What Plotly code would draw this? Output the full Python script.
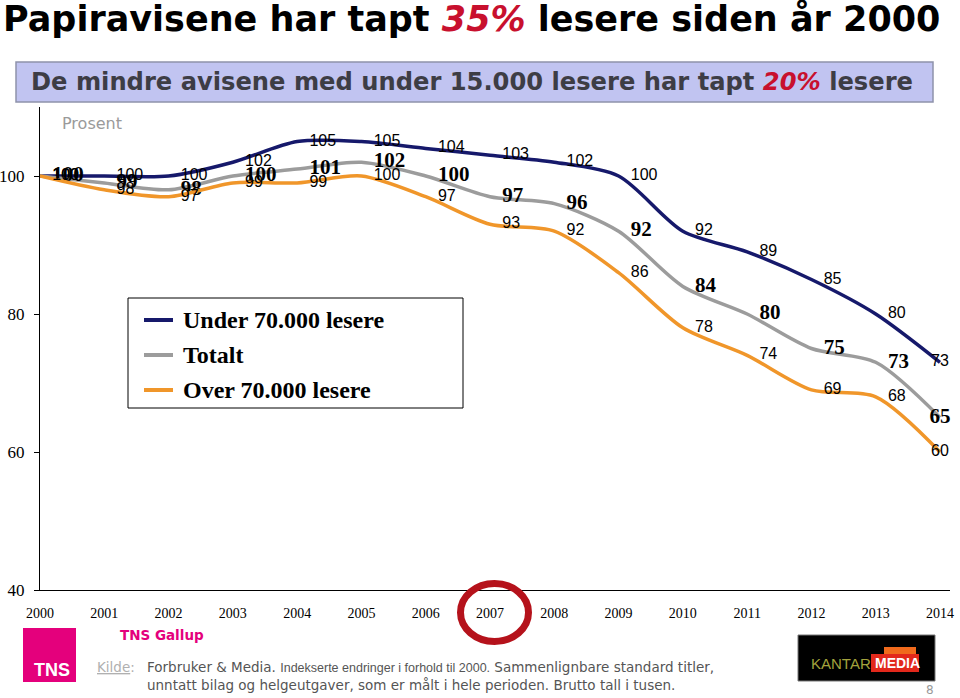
import plotly.graph_objects as go

# ---------------- data ----------------
years = list(range(2000, 2015))
under_70k = [100, 100, 100, 102, 105, 105, 104, 103, 102, 100, 92, 89, 85, 80, 73]
totalt = [100, 99, 98, 100, 101, 102, 100, 97, 96, 92, 84, 80, 75, 73, 65]
over_70k = [100, 98, 97, 99, 99, 100, 97, 93, 92, 86, 78, 74, 69, 68, 60]
series_names = ["Under 70.000 lesere", "Totalt", "Over 70.000 lesere"]
y_ticks = [40, 60, 80, 100]

# ---------------- layout geometry ----------------
W, H = 960, 698
L, R, T, B = 40, 10, 107, 108
PW, PH = W - L - R, H - T - B


def px(x):
    return (x - L) / PW


def py(y):
    return (H - B - y) / PH


COL_UNDER = "#16196b"
COL_TOT = "#9c9c9c"
COL_OVER = "#f0962a"

positions = ["middle right"] * (len(years) - 1) + ["middle center"]

fig = go.Figure()

fig.add_trace(go.Scatter(
    x=years, y=under_70k, name=series_names[0], mode="lines+markers+text",
    line=dict(color=COL_UNDER, width=3.5, shape="spline", smoothing=0.8),
    marker=dict(size=18, color="rgba(0,0,0,0)"),
    text=[str(v) for v in under_70k], textposition=positions,
    textfont=dict(family="Liberation Sans", size=16, color="black"),
    cliponaxis=False, showlegend=False, hoverinfo="skip"))

fig.add_trace(go.Scatter(
    x=years, y=totalt, name=series_names[1], mode="lines+markers+text",
    line=dict(color=COL_TOT, width=3.5, shape="spline", smoothing=0.8),
    marker=dict(size=18, color="rgba(0,0,0,0)"),
    text=["<b>%d</b>" % v for v in totalt], textposition=positions,
    textfont=dict(family="Liberation Serif", size=21, color="black"),
    cliponaxis=False, showlegend=False, hoverinfo="skip"))

fig.add_trace(go.Scatter(
    x=years, y=over_70k, name=series_names[2], mode="lines+markers+text",
    line=dict(color=COL_OVER, width=3.5, shape="spline", smoothing=0.8),
    marker=dict(size=18, color="rgba(0,0,0,0)"),
    text=[str(v) for v in over_70k], textposition=positions,
    textfont=dict(family="Liberation Sans", size=16, color="black"),
    cliponaxis=False, showlegend=False, hoverinfo="skip"))

shapes = []
annotations = []

# title
annotations.append(dict(
    xref="paper", yref="paper", x=px(1), y=py(19), xanchor="left", yanchor="middle",
    text="<b>Papiravisene har tapt <i><span style='color:#c8102e'>35%</span></i> lesere siden år 2000</b>",
    showarrow=False, font=dict(family="DejaVu Sans", size=35, color="black")))

# subtitle box
shapes.append(dict(type="rect", xref="paper", yref="paper",
                   x0=px(16), x1=px(933), y0=py(102), y1=py(62),
                   fillcolor="#c1c4f1", line=dict(color="#8e92aa", width=1.5), layer="below"))
annotations.append(dict(
    xref="paper", yref="paper", x=px(29), y=py(82), xanchor="left", yanchor="middle",
    text="<b>De mindre avisene med under 15.000 lesere har tapt <i><span style='color:#c8102e'>20%</span></i> lesere</b>",
    showarrow=False, font=dict(family="DejaVu Sans", size=24.2, color="#3d3d45")))

# "Prosent"
annotations.append(dict(
    xref="paper", yref="paper", x=px(60), y=py(123), xanchor="left", yanchor="middle",
    text="Prosent", showarrow=False, font=dict(family="DejaVu Sans", size=16, color="#9a9a9a")))

# manual legend
shapes.append(dict(type="rect", xref="paper", yref="paper",
                   x0=px(128), x1=px(463), y0=py(408), y1=py(298),
                   fillcolor="white", line=dict(color="black", width=1), layer="above"))
leg_y = [320, 355, 390]
for name, col, yy in zip(series_names, [COL_UNDER, COL_TOT, COL_OVER], leg_y):
    shapes.append(dict(type="line", xref="paper", yref="paper",
                       x0=px(144), x1=px(173), y0=py(yy), y1=py(yy),
                       line=dict(color=col, width=4), layer="above"))
    annotations.append(dict(
        xref="paper", yref="paper", x=px(181), y=py(yy), xanchor="left", yanchor="middle",
        text="<b>%s</b>" % name, showarrow=False,
        font=dict(family="Liberation Serif", size=24, color="black")))

# red circle around 2007
shapes.append(dict(type="circle", xref="paper", yref="paper",
                   x0=px(460.5), x1=px(528.5), y0=py(641.5), y1=py(583.5),
                   line=dict(color="#b5121b", width=7), layer="above"))

# TNS logo
shapes.append(dict(type="rect", xref="paper", yref="paper",
                   x0=px(23), x1=px(76), y0=py(682), y1=py(628),
                   fillcolor="#e4007c", line=dict(width=0)))
annotations.append(dict(
    xref="paper", yref="paper", x=px(52), y=py(670), xanchor="center", yanchor="middle",
    text="<b>TNS</b>", showarrow=False, font=dict(family="Liberation Sans", size=18, color="white")))
annotations.append(dict(
    xref="paper", yref="paper", x=px(118), y=py(635), xanchor="left", yanchor="middle",
    text="<b>TNS Gallup</b>", showarrow=False, font=dict(family="DejaVu Sans", size=13.5, color="#e4007c")))

# source footnote
annotations.append(dict(
    xref="paper", yref="paper", x=px(95), y=py(667), xanchor="left", yanchor="middle",
    text="<span style='text-decoration:underline'>Kilde</span>:", showarrow=False,
    font=dict(family="DejaVu Sans", size=13.5, color="#b0b0b0")))
annotations.append(dict(
    xref="paper", yref="paper", x=px(145), y=py(667), xanchor="left", yanchor="middle",
    text="Forbruker &amp; Media. <span style='font-family:Liberation Sans Narrow, Liberation Sans;font-size:12.5px'>Indekserte endringer i forhold til 2000.</span> Sammenlignbare standard titler,",
    showarrow=False, font=dict(family="DejaVu Sans", size=13.5, color="#555555")))
annotations.append(dict(
    xref="paper", yref="paper", x=px(145), y=py(685), xanchor="left", yanchor="middle",
    text="unntatt bilag og helgeutgaver, som er målt i hele perioden. Brutto tall i tusen.",
    showarrow=False, font=dict(family="DejaVu Sans", size=13.5, color="#555555")))

# Kantar Media logo
shapes.append(dict(type="rect", xref="paper", yref="paper",
                   x0=px(798), x1=px(935), y0=py(681), y1=py(635),
                   fillcolor="black", line=dict(color="#777777", width=1)))
shapes.append(dict(type="rect", xref="paper", yref="paper",
                   x0=px(871), x1=px(919), y0=py(672), y1=py(654),
                   fillcolor="#e2281b", line=dict(width=0)))
shapes.append(dict(type="rect", xref="paper", yref="paper",
                   x0=px(884), x1=px(916), y0=py(654), y1=py(647),
                   fillcolor="#f06a1c", line=dict(width=0)))
annotations.append(dict(
    xref="paper", yref="paper", x=px(809), y=py(663), xanchor="left", yanchor="middle",
    text="KANTAR", showarrow=False, font=dict(family="Liberation Sans", size=15, color="#a3a23c")))
annotations.append(dict(
    xref="paper", yref="paper", x=px(873), y=py(663), xanchor="left", yanchor="middle",
    text="<b>MEDIA</b>", showarrow=False, font=dict(family="Liberation Sans", size=14, color="white")))

# page number
annotations.append(dict(
    xref="paper", yref="paper", x=px(930), y=py(690), xanchor="center", yanchor="middle",
    text="8", showarrow=False, font=dict(family="DejaVu Sans", size=12, color="#999999")))

fig.update_layout(
    width=W, height=H,
    margin=dict(l=L, r=R, t=T, b=B, pad=0),
    paper_bgcolor="white", plot_bgcolor="white",
    shapes=shapes, annotations=annotations,
    showlegend=False,
    xaxis=dict(range=[2000, 2000 + PW / (900 / 14)], tickmode="array", tickvals=years,
               ticktext=[str(y) for y in years], showline=True, linecolor="black", linewidth=1,
               ticks="", showgrid=False, zeroline=False, ticklabelstandoff=10, automargin=False,
               tickfont=dict(family="Liberation Serif", size=14, color="black")),
    yaxis=dict(range=[40, 110], tickmode="array", tickvals=y_ticks,
               showline=True, linecolor="black", linewidth=1, ticks="outside", ticklen=5,
               tickcolor="black", showgrid=False, zeroline=False, ticklabelstandoff=6,
               automargin=False,
               tickfont=dict(family="Liberation Serif", size=17, color="black")),
)

fig.write_html("out.html", config={"displayModeBar": False},
               post_script="document.body.style.margin='0';document.body.style.overflow='hidden';")
